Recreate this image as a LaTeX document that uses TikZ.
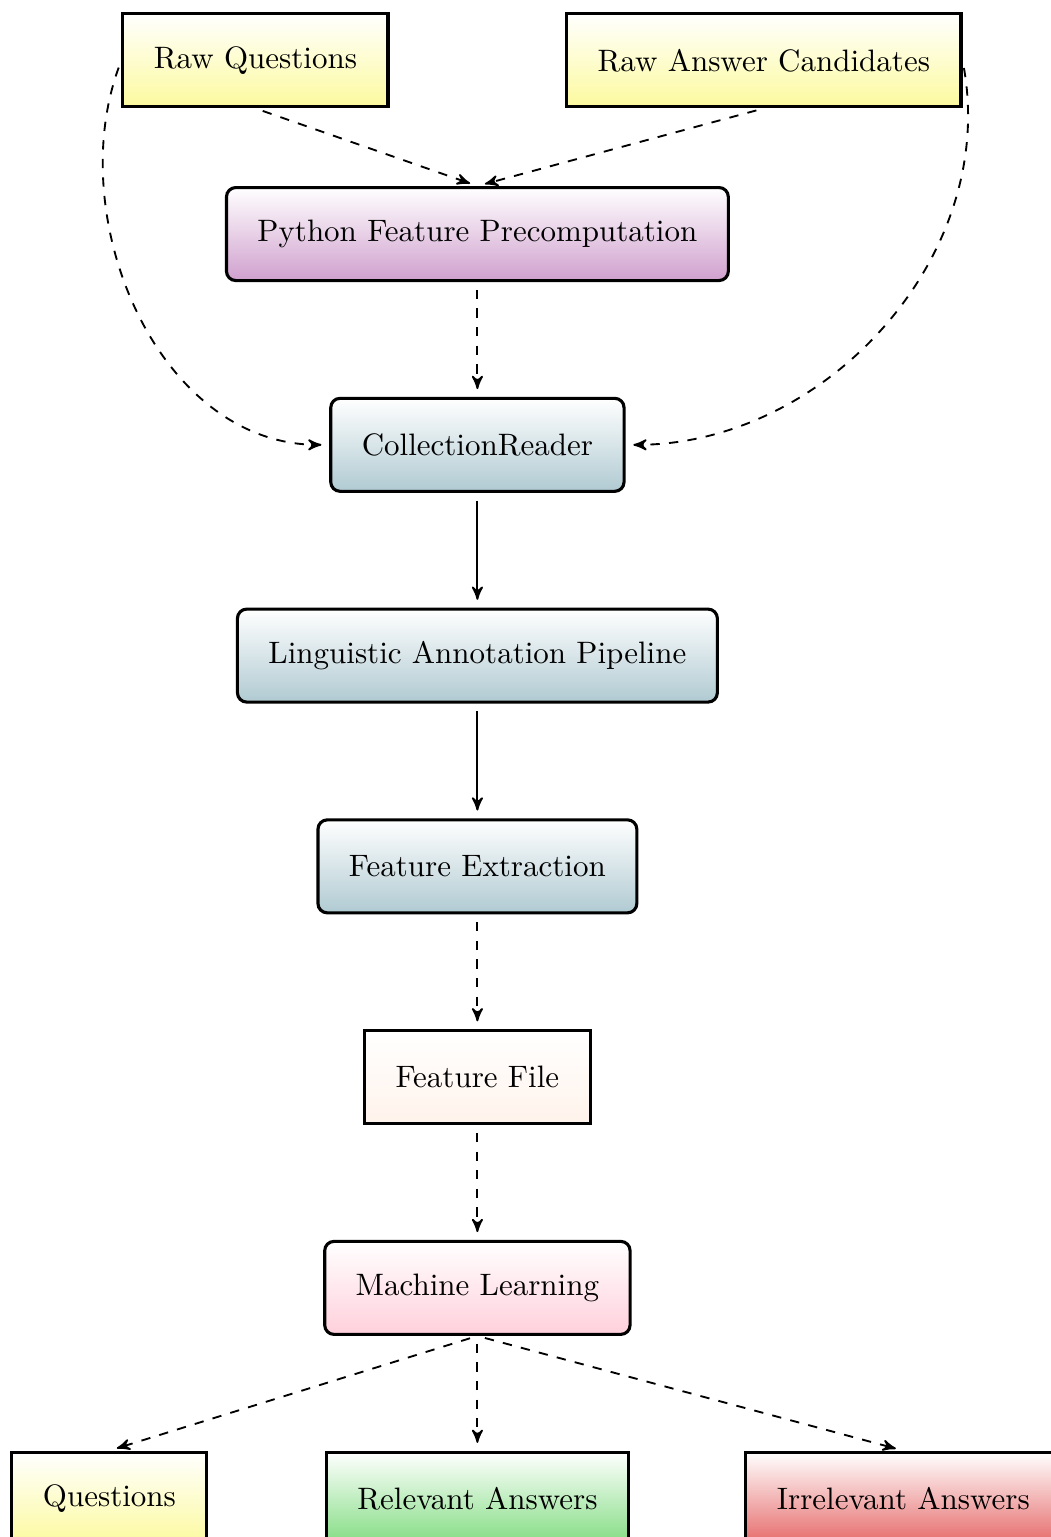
\documentclass[tikz,border=0pt]{standalone}
\usepackage{tikz}
\usetikzlibrary{arrows, positioning}
\definecolor{rawbg}{RGB}{252,250,158}
\definecolor{pybg}{RGB}{208,160,206}
\definecolor{uimabg}{RGB}{176,202,210}
\definecolor{filebg}{RGB}{255,243,235}
\definecolor{mlbg}{RGB}{255,208,220}
\definecolor{relbg}{RGB}{130,220,130}
\definecolor{irrbg}{RGB}{230,105,105}

\begin{document}
\begin{tikzpicture}[
    node distance=1.3cm,
    data/.style={rectangle, draw=black, line width=1pt, top color=white, bottom color=rawbg, minimum height=30pt, inner xsep=10pt, align=center},
    block/.style={rectangle, draw=black, line width=1pt, rounded corners=3pt, top color=white, bottom color=uimabg, minimum height=30pt, inner xsep=10pt, align=center},
    edge/.style={->, >=stealth', semithick, shorten >=2.5pt, shorten <=2.5pt},
    dashededge/.style={edge, dashed}
]

\useasboundingbox (-154.0pt,75.5pt) rectangle (185.0pt,-420.3pt);

% Nodes
\node[block, bottom color=pybg] (python) {Python Feature Precomputation};
\node[data, above=0.88cm of python, xshift=-71.6pt] (rawq) {Raw Questions};
\node[data, above=0.88cm of python, xshift=92.4pt] (rawa) {Raw Answer Candidates};
\node[block, below=of python] (reader) {CollectionReader};
\node[block, below=of reader] (pipeline) {Linguistic Annotation Pipeline};
\node[block, below=of pipeline] (extract) {Feature Extraction};
\node[data, bottom color=filebg, below=of extract] (featfile) {Feature File};
\node[block, bottom color=mlbg, below=of featfile] (ml) {Machine Learning};
\node[data, bottom color=relbg, below=of ml] (relevant) {Relevant Answers};
\node[data, below=of ml, xshift=-118.7pt] (questions) {Questions};
\node[data, bottom color=irrbg, below=of ml, xshift=137.4pt] (irrelevant) {Irrelevant Answers};

% Edges
\draw[dashededge] (rawq.south) -- (python.north);
\draw[dashededge] (rawa.south) -- (python.north);
\draw[dashededge] (rawq.west) to[out=250, in=180] (reader.west);
\draw[dashededge] (rawa.east) to[out=-80, in=0] (reader.east);
\draw[dashededge] (python) -- (reader);
\draw[edge] (reader) -- (pipeline);
\draw[edge] (pipeline) -- (extract);
\draw[dashededge] (extract) -- (featfile);
\draw[dashededge] (featfile) -- (ml);
\draw[dashededge] (ml.south) -- (questions.north);
\draw[dashededge] (ml) -- (relevant);
\draw[dashededge] (ml.south) -- (irrelevant.north);

\end{tikzpicture}
\end{document}
